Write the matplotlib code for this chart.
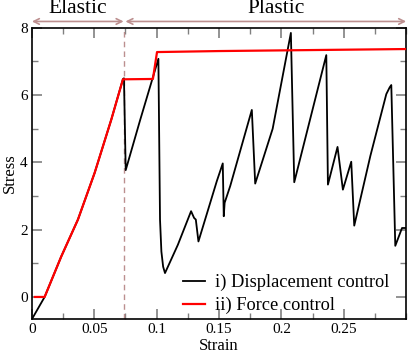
import numpy as np
import matplotlib
matplotlib.use("Agg")
import matplotlib.pyplot as plt
from matplotlib.ticker import MultipleLocator

# ── Data ──────────────────────────────────────────────────────
disp_strain = [0.0, 0.0102, 0.0235, 0.0369, 0.0503, 0.0637, 0.0730, 0.0738,
               0.0752, 0.0867, 0.1014, 0.1027, 0.1038, 0.1052, 0.1067, 0.1170,
               0.1276, 0.1300, 0.1314, 0.1335, 0.1482, 0.1530, 0.1538,
               0.1545, 0.1590, 0.1763, 0.1790, 0.1930, 0.2076, 0.2103,
               0.2360, 0.2373, 0.2450, 0.2493, 0.2560, 0.2584, 0.2713,
               0.2841, 0.2868, 0.2881, 0.2913, 0.2967, 0.3000]
disp_stress = [-0.66, 0.0, 1.2, 2.3, 3.69, 5.28, 6.48, 6.5,
               3.77, 5.25, 7.08, 2.3, 1.35, 0.9, 0.71, 1.55,
               2.55, 2.35, 2.3, 1.65, 3.44, 3.97, 2.4,
               2.8, 3.3, 5.56, 3.37, 5.0, 7.85, 3.41,
               7.19, 3.34, 4.46, 3.19, 4.02, 2.12, 4.19,
               6.03, 6.23, 6.3, 1.52, 2.05, 2.05]

force_strain = [0.0024, 0.0102, 0.0235, 0.0369, 0.0503, 0.0637, 0.0730,
                0.0970, 0.1003, 0.1500, 0.2000, 0.2500, 0.3000]
force_stress = [0.0, 0.0, 1.2, 2.3, 3.69, 5.28, 6.47,
                6.48, 7.28, 7.31, 7.33, 7.35, 7.37]

elastic_limit = 0.074

# ── Style ─────────────────────────────────────────────────────
plt.rcParams["font.family"] = ["Liberation Serif", "DejaVu Serif"]
ROSY = "#bc8f8f"
TICK = "#808080"

fig = plt.figure(figsize=(4.09, 3.57), dpi=100)
ax = fig.add_axes([0.078, 0.106, 0.915, 0.816])

ax.plot(disp_strain, disp_stress, color="black", lw=1.3, zorder=3,
        label="i) Displacement control")
ax.plot(force_strain, force_stress, color="red", lw=1.6, zorder=4,
        label="ii) Force control")

ax.axvline(elastic_limit, color=ROSY, ls=(0, (4, 3)), lw=1.0, zorder=2)

ax.set_xlim(0, 0.3)
ax.set_ylim(-0.66, 8)
ax.xaxis.set_minor_locator(MultipleLocator(0.025))
ax.yaxis.set_major_locator(MultipleLocator(2))
ax.yaxis.set_minor_locator(MultipleLocator(1))
ax.set_xticks([0, 0.05, 0.1, 0.15, 0.2, 0.25])
ax.set_xticklabels(["0", "0.05", "0.1", "0.15", "0.2", "0.25"])
ax.tick_params(which="both", direction="in", top=True, right=True,
               color=TICK, labelsize=11, pad=3)
ax.tick_params(which="major", length=7, width=1.2)
ax.tick_params(which="minor", length=4, width=1.0)
for sp in ax.spines.values():
    sp.set_linewidth(1.2)

ax.set_xlabel("Strain", fontsize=12, labelpad=1.5)
ax.set_ylabel("Stress", fontsize=12, va="center")
ax.yaxis.set_label_coords(-0.058, 0.5)

# Elastic / Plastic arrows above the axes
arrow_y = 8.19
ax.annotate("", xy=(0.0, arrow_y), xytext=(elastic_limit - 0.0005, arrow_y),
            arrowprops=dict(arrowstyle="<->", color=ROSY, lw=1.2,
                            shrinkA=0, shrinkB=0),
            annotation_clip=False)
ax.annotate("", xy=(elastic_limit + 0.001, arrow_y), xytext=(0.3, arrow_y),
            arrowprops=dict(arrowstyle="<->", color=ROSY, lw=1.2,
                            shrinkA=0, shrinkB=0),
            annotation_clip=False)
ax.text(elastic_limit / 2, 8.57, "Elastic", ha="center", va="center",
        fontsize=15.5, clip_on=False)
ax.text((elastic_limit + 0.3) / 2 + 0.009, 8.57, "Plastic", ha="center",
        va="center", fontsize=15.5, clip_on=False)

ax.legend(loc="lower right", frameon=False, fontsize=13.2,
          handlelength=1.2, handletextpad=0.55, labelspacing=0.3,
          bbox_to_anchor=(1.0, -0.04))

fig.savefig("out.png", dpi=100)
